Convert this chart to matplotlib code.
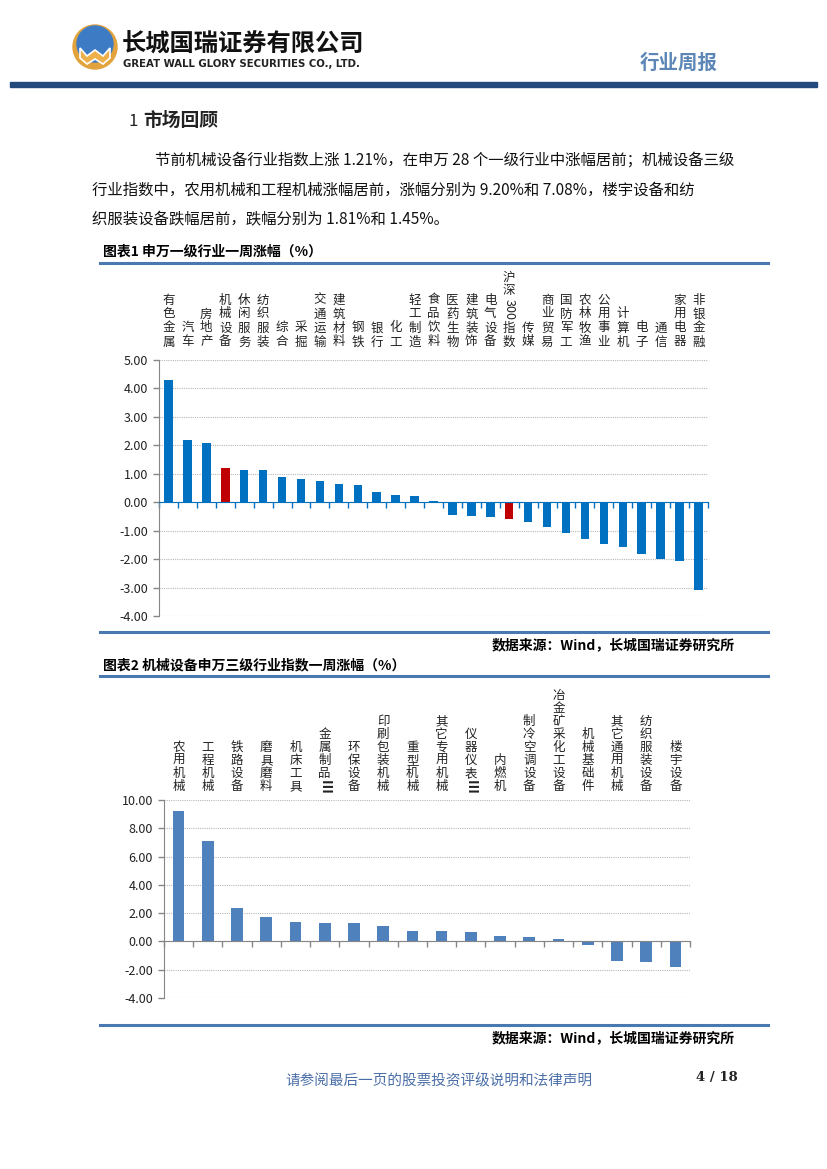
import re
import numpy as np
import matplotlib
matplotlib.use('Agg')
import matplotlib.pyplot as plt
from matplotlib.transforms import blended_transform_factory
from matplotlib.patches import Circle, Polygon, Rectangle

plt.rcParams['font.family'] = ['Noto Sans CJK SC', 'DejaVu Sans']
plt.rcParams['axes.unicode_minus'] = False

## data, chart 1
ind1 = ['有色金属', '汽车', '房地产', '机械设备', '休闲服务', '纺织服装', '综合', '采掘',
        '交通运输', '建筑材料', '钢铁', '银行', '化工', '轻工制造', '食品饮料', '医药生物',
        '建筑装饰', '电气设备', '沪深300指数', '传媒', '商业贸易', '国防军工', '农林牧渔',
        '公用事业', '计算机', '电子', '通信', '家用电器', '非银金融']
chg1 = [4.28, 2.18, 2.07, 1.21, 1.12, 1.12, 0.89, 0.83, 0.75, 0.64, 0.61, 0.36, 0.26,
        0.23, 0.03, -0.44, -0.47, -0.51, -0.60, -0.69, -0.88, -1.08, -1.29, -1.47,
        -1.58, -1.83, -2.00, -2.07, -3.07]
hilite1 = ['机械设备', '沪深300指数']
yticks1 = [5, 4, 3, 2, 1, 0, -1, -2, -3, -4]

## data, chart 2
ind2 = ['农用机械', '工程机械', '铁路设备', '磨具磨料', '机床工具', '金属制品Ⅲ', '环保设备',
        '印刷包装机械', '重型机械', '其它专用机械', '仪器仪表Ⅲ', '内燃机', '制冷空调设备',
        '冶金矿采化工设备', '机械基础件', '其它通用机械', '纺织服装设备', '楼宇设备']
chg2 = [9.20, 7.08, 2.39, 1.73, 1.40, 1.33, 1.30, 1.09, 0.73, 0.71, 0.69, 0.36, 0.28,
        0.17, -0.28, -1.35, -1.45, -1.81]
yticks2 = [10, 8, 6, 4, 2, 0, -2, -4]

W, H = 827, 1169
fig = plt.figure(figsize=(W/100, H/100), dpi=100)

def fx(x):
    return x / W

def fy(y):
    return 1 - y / H

def ftext(x, y, s, **kw):
    fig.text(fx(x), fy(y), s, **kw)

def hline(x0, x1, y, color, lw):
    fig.add_artist(plt.Line2D([fx(x0), fx(x1)], [fy(y), fy(y)], color=color, lw=lw,
                              transform=fig.transFigure))

## header
logo = fig.add_axes([fx(72), fy(70), fx(46), 46/H])
logo.set_xlim(0, 46)
logo.set_ylim(0, 46)
logo.axis('off')
logo.add_patch(Circle((23, 23), 22, color='#e3a33c'))
logo.add_patch(Circle((23, 26), 18, color='#3d7cc4'))
logo.add_patch(Polygon([[8, 22], [15, 14], [23, 20], [31, 14], [38, 22], [38, 12],
                        [31, 6], [23, 11], [15, 6], [8, 12]],
                       closed=True, facecolor='#eeb04a', edgecolor='white', lw=1.2))
ftext(122, 45, '长城国瑞证券有限公司', fontsize=17.5, fontweight='bold', va='center', color='#111111')
ftext(123, 64, 'GREAT WALL GLORY SECURITIES CO., LTD.', fontsize=7.3, fontweight='bold',
      va='center', family='DejaVu Sans', color='#222222')
ftext(640, 63, '行业周报', fontsize=14, va='center', color='#5b86b6', fontweight='bold')
fig.add_artist(Rectangle((fx(10), fy(87)), fx(807), 5/H, color='#24497d',
                         transform=fig.transFigure))

## section text
ftext(128, 121, '1', fontsize=12, va='center', color='#222222')
ftext(143, 121, '市场回顾', fontsize=13.5, va='center', fontweight='bold', color='#222222')
para = ['节前机械设备行业指数上涨 1.21%，在申万 28 个一级行业中涨幅居前；机械设备三级',
        '行业指数中，农用机械和工程机械涨幅居前，涨幅分别为 9.20%和 7.08%，楼宇设备和纺',
        '织服装设备跌幅居前，跌幅分别为 1.81%和 1.45%。']
ftext(155, 160, para[0], fontsize=11.1, va='center', color='#111111')
ftext(92, 190, para[1], fontsize=11.1, va='center', color='#111111')
ftext(92, 220, para[2], fontsize=11.1, va='center', color='#111111')


def vlabel(ax, x, label, bottom, pitch, size):
    trans = blended_transform_factory(ax.transData, fig.transFigure)
    y = bottom
    for tok in reversed(re.findall(r'\d+|.', label)):
        kw = {}
        if tok.isdigit():
            h = len(tok) * size * 0.56 * 100 / 72 + 2
            rot = -90
        elif tok == 'Ⅲ':
            h = pitch
            rot = -90
            kw = {'fontweight': 'bold', 'fontsize': size + 1}
        else:
            h = pitch
            rot = 0
        ax.text(x, fy(y - h/2), tok, transform=trans, rotation=rot, ha='center',
                va='center', fontsize=kw.pop('fontsize', size), color='#222222', **kw)
        y -= h


def bar_chart(rect, names, vals, colors, yticks, width, zcolor, lab_bottom, pitch):
    ax = fig.add_axes(rect)
    x = np.arange(len(names))
    ax.bar(x, vals, width=width, color=colors, zorder=3)
    ax.set_xlim(-0.5, len(names) - 0.5)
    ax.set_ylim(min(yticks), max(yticks))
    ax.set_yticks(yticks)
    ax.set_yticklabels(['%.2f' % v for v in yticks], fontsize=9, color='#222222')
    ax.set_xticks(np.arange(len(names) + 1) - 0.5)
    ax.set_xticklabels([])
    ax.tick_params(axis='x', direction='out', length=4, width=1, color=zcolor)
    ax.tick_params(axis='y', direction='out', length=4, width=1, color='#868686', pad=4)
    ax.spines['top'].set_visible(False)
    ax.spines['right'].set_visible(False)
    ax.spines['left'].set_color('#868686')
    ax.spines['bottom'].set_position(('data', 0))
    ax.spines['bottom'].set_color(zcolor)
    ax.spines['bottom'].set_zorder(4)
    ax.yaxis.grid(True, linestyle=(0, (1, 1)), color='#b8b8b8', lw=0.8, zorder=0)
    ax.set_facecolor('none')
    for i, n in enumerate(names):
        vlabel(ax, i, n, lab_bottom, pitch, 9)
    return ax


## chart 1
ftext(103, 252, '图表1 申万一级行业一周涨幅（%）', fontsize=10, fontweight='bold', va='center')
hline(100, 768, 263, '#4a78b0', 2.2)
cols1 = ['#c00000' if n in hilite1 else '#0070c0' for n in ind1]
bar_chart([fx(159), fy(616), fx(708 - 159), (616 - 360)/H], ind1, chg1, cols1, yticks1,
          0.45, '#0070c0', 349, 14)
hline(100, 768, 632, '#4a78b0', 2.2)
ftext(735, 645, '数据来源：Wind，长城国瑞证券研究所', fontsize=10, fontweight='bold',
      ha='right', va='center')

## chart 2
ftext(103, 665, '图表2 机械设备申万三级行业指数一周涨幅（%）', fontsize=10, fontweight='bold',
      va='center')
hline(100, 768, 676, '#4a78b0', 2.2)
bar_chart([fx(164), fy(998), fx(690 - 164), (998 - 800)/H], ind2, chg2, '#4f81bd', yticks2,
          0.4, '#868686', 793, 13)
hline(100, 768, 1025, '#4a78b0', 2.2)
ftext(735, 1038, '数据来源：Wind，长城国瑞证券研究所', fontsize=10, fontweight='bold',
      ha='right', va='center')

## footer
ftext(285, 1081, '请参阅最后一页的股票投资评级说明和法律声明', fontsize=10.5, va='center',
      color='#4a6ea8')
ftext(738, 1077, '4 / 18', fontsize=9.5, va='center', ha='right', color='#222222',
      family='DejaVu Serif', fontweight='bold')

fig.savefig('out.png', dpi=100)
